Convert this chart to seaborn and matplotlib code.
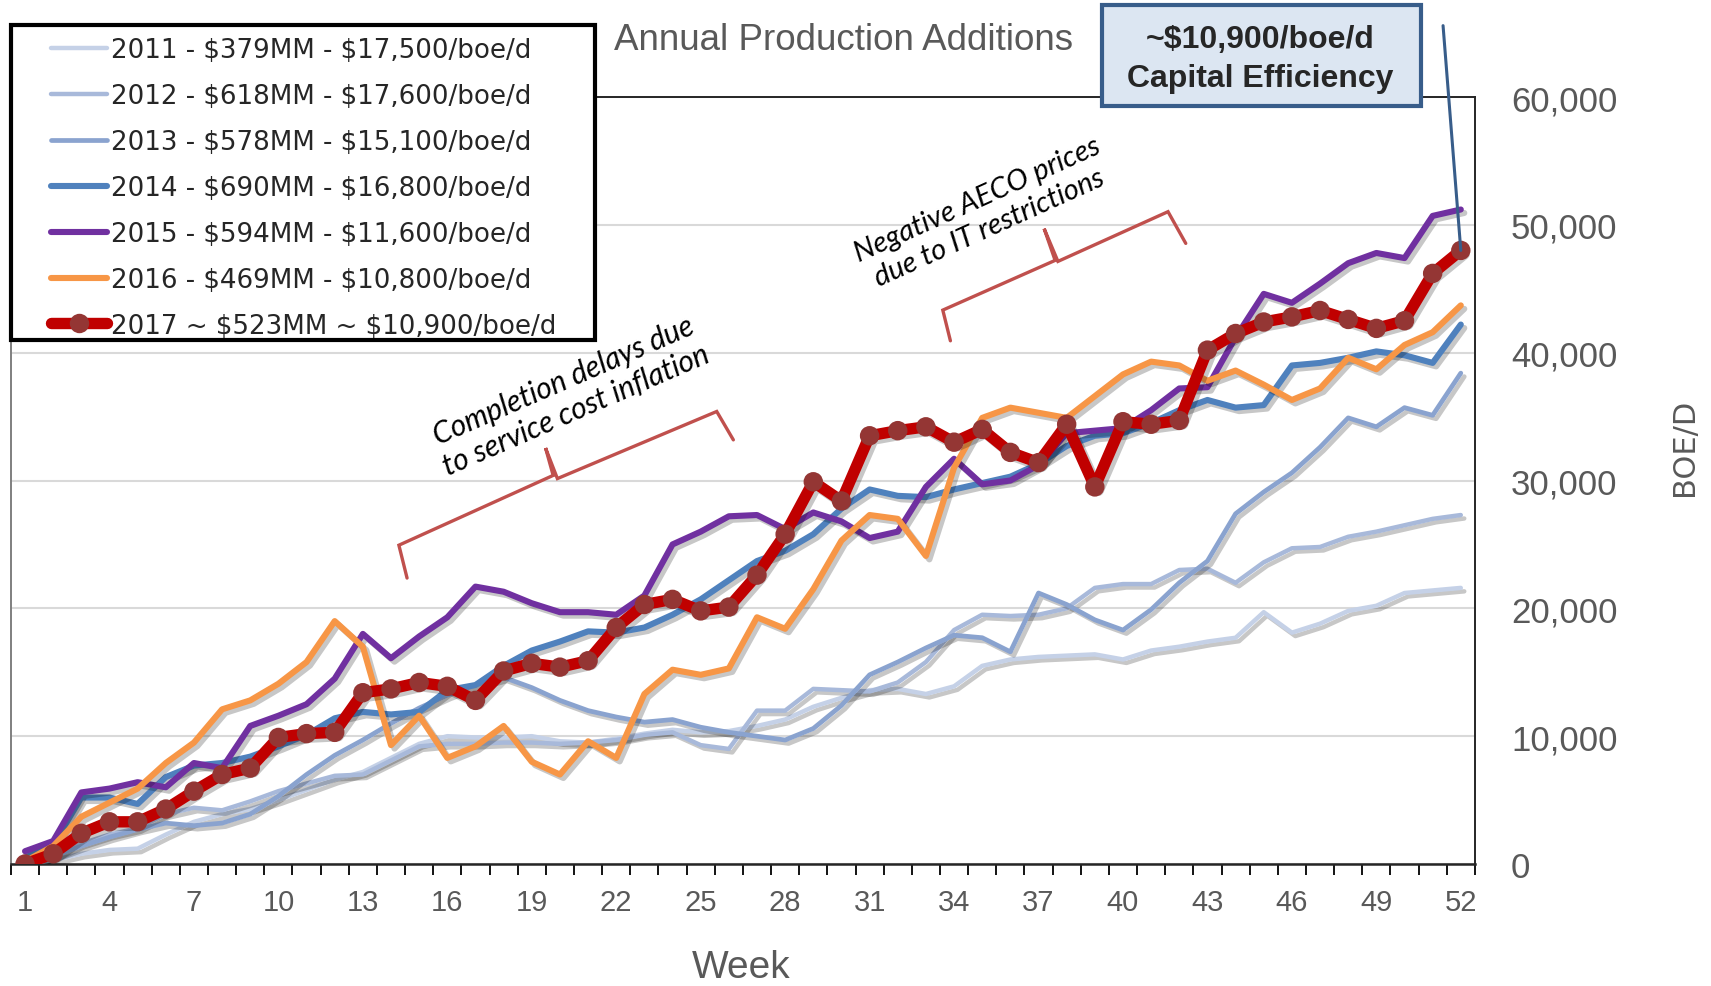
import matplotlib
matplotlib.use("Agg")
import matplotlib.pyplot as plt
import matplotlib.patheffects as pe
from matplotlib.lines import Line2D
from matplotlib.legend_handler import HandlerLine2D
from matplotlib.patches import Rectangle
import seaborn as sns

# ---------------------------------------------------------------- data
weeks = list(range(1, 53))

prod_2011 = [0, 300, 800, 1100, 1200, 2300, 3300, 3900, 4300, 5000,
             5800, 6600, 7200, 8300, 9400, 10000, 9900, 9900, 10000, 9600,
             9500, 9800, 10200, 10500, 10300, 10400, 10800, 11300, 12300, 13000,
             13600, 13700, 13300, 13900, 15500, 16000, 16200, 16300, 16400, 16000,
             16700, 17000, 17400, 17700, 19700, 18100, 18800, 19800, 20200, 21200,
             21400, 21600]
prod_2012 = [0, 600, 1600, 2300, 2800, 3900, 4400, 4200, 4900, 5700,
             6300, 6900, 7000, 8100, 9200, 9400, 9400, 9500, 9500, 9400,
             9500, 9700, 10100, 10300, 9300, 9000, 12000, 12000, 13700, 13600,
             13500, 14200, 15800, 18300, 19500, 19400, 19500, 20000, 21600, 21900,
             21900, 23000, 23100, 22000, 23600, 24700, 24800, 25600, 26000, 26500,
             27000, 27300]
prod_2013 = [500, 600, 1400, 2100, 2700, 3200, 3000, 3200, 3900, 5300,
             7000, 8500, 9700, 11000, 12200, 13200, 14000, 14600, 13800, 12800,
             12000, 11500, 11100, 11300, 10700, 10300, 10000, 9700, 10600, 12400,
             14800, 15800, 16900, 17900, 17700, 16600, 21200, 20300, 19100, 18300,
             19900, 22000, 23700, 27400, 29100, 30600, 32600, 34900, 34200, 35700,
             35100, 38400]
prod_2014 = [500, 1500, 5200, 5200, 4700, 6800, 7700, 7900, 8400, 9200,
             10100, 11400, 11900, 11700, 11900, 13600, 14000, 15500, 16700, 17400,
             18200, 18100, 18500, 19500, 20700, 22200, 23700, 24500, 25800, 27800,
             29300, 28800, 28700, 29300, 29800, 30300, 31300, 32700, 33500, 33700,
             34500, 35500, 36300, 35700, 35900, 39000, 39200, 39600, 40100, 39800,
             39200, 42200]
prod_2015 = [1000, 1800, 5600, 5900, 6400, 6000, 7900, 7500, 10800, 11600,
             12500, 14500, 18000, 16100, 17800, 19300, 21700, 21300, 20400, 19700,
             19700, 19500, 21000, 25000, 26000, 27200, 27300, 26200, 27500, 26800,
             25500, 26000, 29500, 31700, 29700, 30000, 31200, 33700, 33900, 34100,
             35500, 37200, 37300, 41200, 44600, 43900, 45400, 47000, 47800, 47400,
             50700, 51200]
prod_2016 = [200, 1400, 3700, 4800, 5900, 7900, 9500, 12100, 12800, 14100,
             15800, 19000, 17000, 9300, 11600, 8300, 9200, 10800, 8000, 7000,
             9600, 8300, 13300, 15200, 14800, 15300, 19300, 18400, 21500, 25300,
             27300, 27000, 24100, 31000, 34900, 35700, 35300, 34900, 36600, 38300,
             39300, 39000, 37800, 38600, 37500, 36300, 37200, 39600, 38700, 40600,
             41600, 43700]
prod_2017 = [0, 800, 2400, 3300, 3300, 4300, 5700, 7000, 7500, 9900,
             10200, 10300, 13400, 13700, 14200, 13900, 12800, 15100, 15700, 15400,
             15900, 18500, 20300, 20700, 19800, 20100, 22600, 25800, 29900, 28400,
             33500, 33900, 34200, 33000, 34000, 32200, 31400, 34400, 29500, 34600,
             34400, 34700, 40200, 41500, 42400, 42800, 43300, 42600, 41900, 42500,
             46200, 48000]

series_labels = [
    "2011 - $379MM - $17,500/boe/d",
    "2012 - $618MM - $17,600/boe/d",
    "2013 - $578MM - $15,100/boe/d",
    "2014 - $690MM - $16,800/boe/d",
    "2015 - $594MM - $11,600/boe/d",
    "2016 - $469MM - $10,800/boe/d",
    "2017 ~ $523MM ~ $10,900/boe/d",
]
series_values = [prod_2011, prod_2012, prod_2013, prod_2014,
                 prod_2015, prod_2016, prod_2017]

x_tick_weeks = list(range(1, 53, 3))
x_tick_labels = [str(w) for w in x_tick_weeks]
y_ticks = [0, 10000, 20000, 30000, 40000, 50000, 60000]
y_tick_labels = ["0", "10,000", "20,000", "30,000", "40,000", "50,000", "60,000"]

title_text = "Annual Production Additions"
box_lines = ["~$10,900/boe/d", "Capital Efficiency"]
note_completion = "Completion delays due\nto service cost inflation"
note_aeco = "Negative AECO prices\ndue to IT restrictions"

# ---------------------------------------------------------------- styling
series_colors = ["#c5d1e7", "#a8b9da", "#8aa3cf", "#4f81bd",
                 "#7030a0", "#f79646", "#c00000"]
series_widths = [3.2, 3.2, 3.4, 4.4, 4.4, 4.4, 8.2]
marker_color = "#943634"
bracket_color = "#c0504d"
box_edge = "#385d8a"
box_face = "#dce6f2"
gray_text = "#595959"
gray_font = "Liberation Sans"

sns.set_theme(style="white")
plt.rcParams["font.family"] = ["DejaVu Sans"]

fig = plt.figure(figsize=(17.11, 9.87), dpi=100)
ax = fig.add_axes([0.0064, 0.1236, 0.8556, 0.7771])

shadow = [pe.SimpleLineShadow(offset=(2.5, -2.5), shadow_color="black", alpha=0.22),
          pe.Normal()]

for i, (label, vals, color, lw) in enumerate(zip(series_labels, series_values,
                                                 series_colors, series_widths)):
    kws = dict(color=color, linewidth=lw, label=label, path_effects=shadow,
               zorder=3 + i, solid_capstyle="round", solid_joinstyle="round")
    if i == len(series_values) - 1:
        kws.update(marker="o", markersize=14, markerfacecolor=marker_color,
                   markeredgecolor=marker_color, markeredgewidth=0)
    sns.lineplot(x=weeks, y=vals, ax=ax, **kws)

# ---------------------------------------------------------------- axes
ax.set_xlim(0.5, 52.5)
ax.set_ylim(0, 60000)

ax.set_xticks(x_tick_weeks, x_tick_labels)
ax.set_xticks([w + 0.5 for w in range(0, 53)], minor=True)
ax.tick_params(axis="x", which="major", length=0, pad=17, labelsize=21,
               labelcolor=gray_text, labelfontfamily=gray_font)
ax.tick_params(axis="x", which="minor", length=8, width=1.3, color="black",
               direction="out", bottom=True)

ax.yaxis.tick_right()
ax.set_yticks(y_ticks, y_tick_labels)
ax.tick_params(axis="y", length=0, pad=26, labelsize=25, labelcolor=gray_text,
               labelfontfamily=gray_font, left=False, right=False)

ax.yaxis.grid(True, color="#d9d9d9", linewidth=1.5)
ax.xaxis.grid(False)
ax.set_axisbelow(True)

for side, sp in ax.spines.items():
    sp.set_visible(True)
    sp.set_color("#262626")
    sp.set_linewidth(1.4)
ax.spines["left"].set_color("#7f7f7f")
ax.spines["bottom"].set_linewidth(1.8)

ax.set_xlabel("Week", fontsize=28, color=gray_text, family=gray_font)
ax.xaxis.set_label_coords(0.499, -0.147)
ax.xaxis.label.set_va("baseline")

ax.yaxis.set_label_position("right")
ax.set_ylabel("BOE/D", fontsize=22, color=gray_text, rotation=90)
ax.yaxis.set_label_coords(1.143, 0.5445)
ax.yaxis.label.set_va("center")
ax.yaxis.label.set_ha("center")

# ---------------------------------------------------------------- brackets and notes
brace1_x = [14.57, 14.28, 19.76, 19.49, 19.91, 25.57, 26.16]
brace1_y = [22370, 24940, 30400, 32540, 30150, 35400, 33180]
brace2_x = [33.87, 33.60, 37.59, 37.20, 37.69, 41.60, 42.23]
brace2_y = [40930, 43330, 47220, 49700, 47140, 51030, 48550]
for bx, by in ((brace1_x, brace1_y), (brace2_x, brace2_y)):
    ax.plot(bx, by, color=bracket_color, linewidth=2.4, zorder=12,
            solid_joinstyle="miter", clip_on=False)

ax.text(20.34, 36690, note_completion, rotation=23.5, rotation_mode="anchor",
        ha="center", va="center", multialignment="center", fontsize=21.5,
        family="Lato", style="italic", color="black", zorder=13)
ax.text(35.05, 50900, note_aeco, rotation=24.3, rotation_mode="anchor",
        ha="center", va="center", multialignment="center", fontsize=21,
        family="Lato", style="italic", color="black", zorder=13)

# ---------------------------------------------------------------- title
fig.text(0.3589, 0.9493, title_text, ha="left", va="baseline",
         fontsize=26.5, color=gray_text, family=gray_font)

# ---------------------------------------------------------------- capital efficiency callout
fig.patches.append(Rectangle((0.644, 0.8916), 0.1864, 0.1023,
                             transform=fig.transFigure, facecolor=box_face,
                             edgecolor=box_edge, linewidth=3, zorder=6))
fig.text(0.7367, 0.951, box_lines[0], ha="center", va="baseline",
         fontsize=23, weight="bold", family="Liberation Sans", zorder=7,
         parse_math=False)
fig.text(0.7367, 0.9116, box_lines[1], ha="center", va="baseline",
         fontsize=23, weight="bold", family="Liberation Sans", zorder=7)
ax.annotate("", xy=(weeks[-1], prod_2017[-1]), xycoords="data",
            xytext=(0.8434, 0.973), textcoords="figure fraction",
            arrowprops=dict(arrowstyle="-", color=box_edge, lw=2.2,
                            shrinkA=0, shrinkB=0),
            annotation_clip=False, zorder=20)

# ---------------------------------------------------------------- legend
handles, labels = ax.get_legend_handles_labels()
if ax.get_legend() is not None:
    ax.get_legend().remove()


def plain_handle(legend_handle, orig_handle):
    legend_handle.update_from(orig_handle)
    legend_handle.set_path_effects([])


fig.patches.append(Rectangle((0.00672, 0.6545), 0.341, 0.3191,
                             transform=fig.transFigure, facecolor="white",
                             edgecolor="black", linewidth=3, zorder=4))
leg = fig.legend(handles, labels, loc="upper left", bbox_to_anchor=(0.0109, 0.961),
                 frameon=False, fontsize=18.8, borderpad=0, borderaxespad=0,
                 handlelength=3.37, handletextpad=0.15, labelspacing=0.76,
                 handler_map={Line2D: HandlerLine2D(xpad=1.25,
                                                    update_func=plain_handle)})
for t in leg.get_texts():
    t.set_parse_math(False)

fig.savefig("out.png", dpi=100, facecolor="white")
